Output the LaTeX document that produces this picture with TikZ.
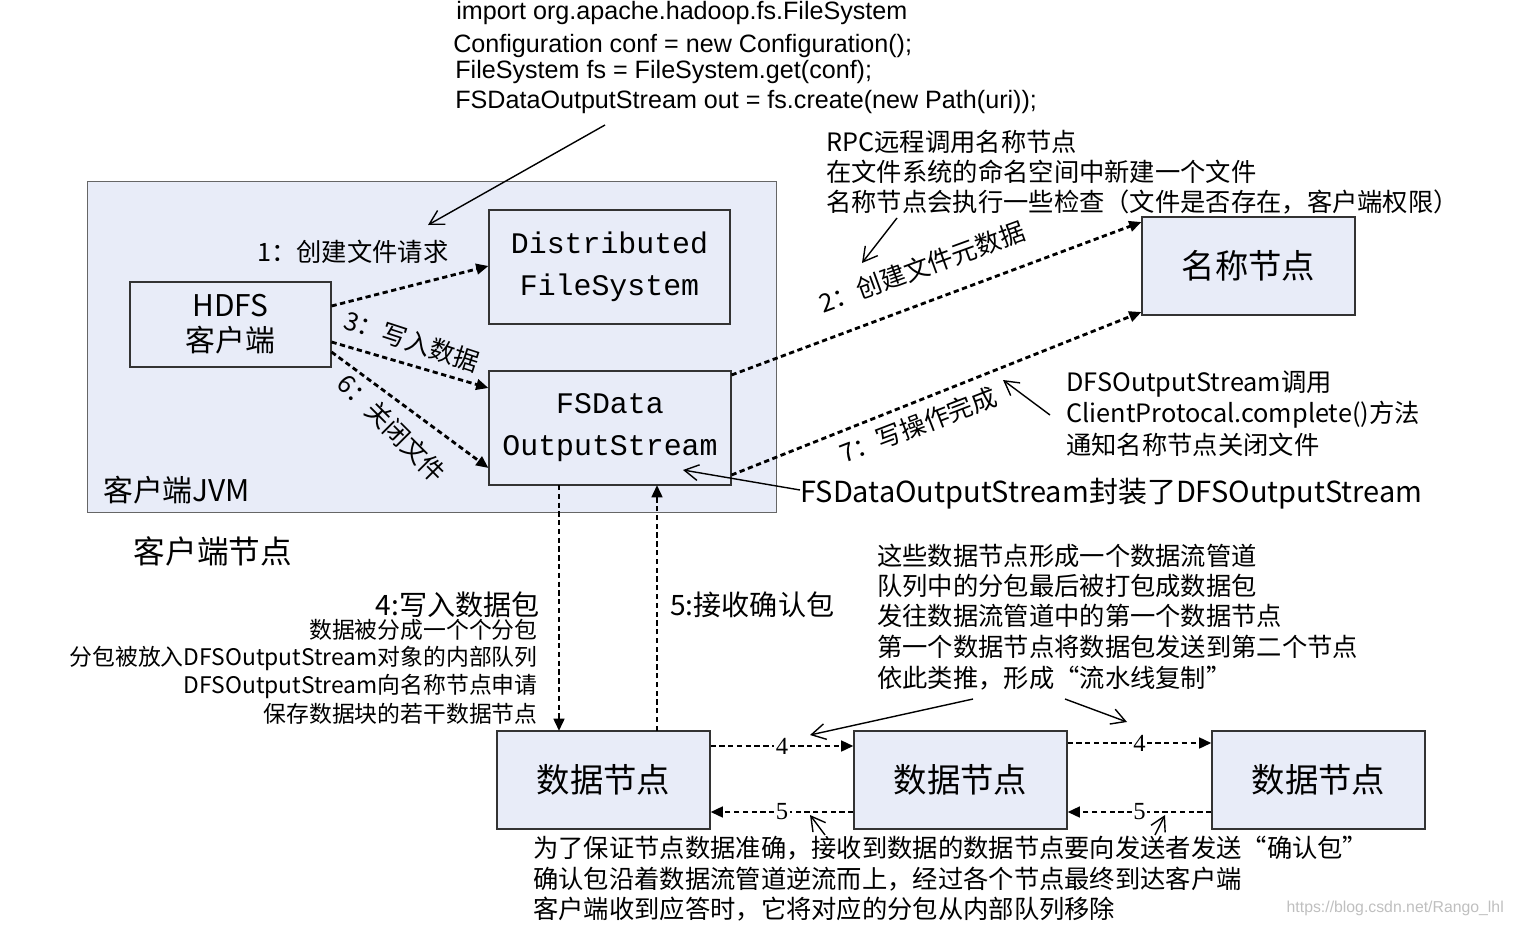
\documentclass[tikz,border=0pt]{standalone}
\usepackage{fontspec}
\setmainfont{Liberation Serif}
\newfontfamily\cjk{Noto Sans CJK SC}
\newfontfamily\sans{Liberation Sans}
\newfontfamily\mono{Liberation Mono}
\usetikzlibrary{arrows.meta}
\definecolor{bx}{RGB}{232,236,248}
\begin{document}
\begin{tikzpicture}[x=0.02cm,y=-0.02cm,
 box/.style={draw=black!80,fill=bx,line width=0.6pt},
 dsh/.style={dash pattern=on 3pt off 2pt,line width=1.6pt,-{Triangle[length=7pt,width=6pt]}},
 thn/.style={line width=0.8pt,-{Straight Barb[length=8pt,width=9pt]}},
 t/.style={font=\cjk\fontsize{14.4}{16}\selectfont,inner sep=0pt},
 ts/.style={font=\cjk\fontsize{13}{15}\selectfont,inner sep=0pt},
 s/.style={font=\sans\fontsize{14.3}{16}\selectfont,inner sep=0pt},
 big/.style={font=\cjk\fontsize{19}{22}\selectfont}]
\useasboundingbox (0,0) rectangle (1518,926);
\fill[bx] (87,181) rectangle (776,512);
\draw[black!60] (87,181) rectangle (776,512);
\node[box,minimum width=201*0.02cm,minimum height=85*0.02cm,align=center,font=\cjk\fontsize{17}{20}\selectfont] (hc) at (230.5,324.5) {HDFS\\客户端};
\node[box,minimum width=241*0.02cm,minimum height=114*0.02cm,align=center,font=\mono\fontsize{17}{24}\selectfont] (dfs) at (609.5,267) {Distributed\\FileSystem};
\node[box,minimum width=242*0.02cm,minimum height=114*0.02cm,align=center,font=\mono\fontsize{17}{24}\selectfont] (fo) at (610,428) {FSData\\OutputStream};
\node[box,minimum width=213*0.02cm,minimum height=98*0.02cm,big] (nn) at (1248.5,266) {名称节点};
\node[box,minimum width=213*0.02cm,minimum height=98*0.02cm,big] (d1) at (603.5,780) {数据节点};
\node[box,minimum width=213*0.02cm,minimum height=98*0.02cm,big] (d2) at (960.5,780) {数据节点};
\node[box,minimum width=213*0.02cm,minimum height=98*0.02cm,big] (d3) at (1318.5,780) {数据节点};
\node[font=\cjk\fontsize{17}{18}\selectfont,anchor=west] at (97,490) {客户端JVM};
\node[font=\cjk\fontsize{18}{19}\selectfont] at (213,551) {客户端节点};
% code
\node[s,anchor=west] at (456,13) {import org.apache.hadoop.fs.FileSystem};
\node[s,anchor=west] at (453,46) {Configuration conf = new Configuration();};
\node[s,anchor=west] at (455,72) {FileSystem fs = FileSystem.get(conf);};
\node[s,anchor=west] at (455,102) {FSDataOutputStream out = fs.create(new Path(uri));};
\coordinate (c1) at (605,125); \coordinate (c2) at (428,225);
\draw[thn] (c1) -- (c2);
% client arrows
\draw[dsh] (hc.east|-0,306) -- (dfs.west|-0,266);
\node[t,anchor=west] at (257,252) {1：创建文件请求};
\draw[dsh] (hc.east|-0,342) -- (fo.west|-0,388);
\node[t,rotate=-18] at (412,341) {3：写入数据};
\draw[dsh] (hc.east|-0,352) -- (fo.west|-0,468);
\node[t,rotate=-45] at (392,428) {6：关闭文件};
\draw[dsh] (fo.east|-0,375) -- (nn.west|-0,222);
\node[t,rotate=20] at (922,267) {2：创建文件元数据};
\draw[dsh] (fo.east|-0,475) -- (nn.west|-0,312);
\node[t,rotate=21] at (918,425) {7：写操作完成};
\node[t,anchor=west,align=left] at (826,142) {RPC远程调用名称节点};
\node[t,anchor=west] at (826,172) {在文件系统的命名空间中新建一个文件};
\node[t,anchor=west] at (826,202) {名称节点会执行一些检查（文件是否存在，客户端权限）};
\coordinate (r1) at (897,218); \coordinate (r2) at (862,263);
\draw[thn] (r1) -- (r2);
\node[t,anchor=west] at (1066,384) {DFSOutputStream调用};
\node[t,anchor=west] at (1066,415) {ClientProtocal.complete()方法};
\node[t,anchor=west] at (1066,445) {通知名称节点关闭文件};
\coordinate (q1) at (1050,415); \coordinate (q2) at (1003,380);
\draw[thn] (q1) -- (q2);
\node[font=\cjk\fontsize{16.5}{18}\selectfont,anchor=west,inner sep=0pt] at (800,494) {FSDataOutputStream封装了DFSOutputStream};
\coordinate (w1) at (800,490);
\draw[thn] (w1) -- (683,470);
% vertical
\draw[dsh] (559,485) -- (559,731);
\draw[dsh] (657,731) -- (657,485);
\node[t,anchor=east,font=\cjk\fontsize{16}{18}\selectfont] at (540,605) {4:写入数据包};
\node[ts,anchor=east] at (538,630) {数据被分成一个个分包};
\node[ts,anchor=east] at (538,658) {分包被放入DFSOutputStream对象的内部队列};
\node[ts,anchor=east] at (538,686) {DFSOutputStream向名称节点申请};
\node[ts,anchor=east] at (538,714) {保存数据块的若干数据节点};
\node[t,anchor=west,font=\cjk\fontsize{16}{18}\selectfont] at (670,605) {5:接收确认包};
\node[t,anchor=west] at (877,556) {这些数据节点形成一个数据流管道};
\node[t,anchor=west] at (877,586) {队列中的分包最后被打包成数据包};
\node[t,anchor=west] at (877,616) {发往数据流管道中的第一个数据节点};
\node[t,anchor=west] at (877,647) {第一个数据节点将数据包发送到第二个节点};
\node[t,anchor=west] at (877,678) {依此类推，形成“流水线复制”};
\coordinate (p1) at (973,699); \coordinate (p2) at (1065,699);
\draw[thn] (p1) -- (810,735);
\draw[thn] (p2) -- (1127,722);
% dn arrows
\draw[dsh] (d1.east|-0,746) -- node[fill=white,inner sep=1pt,font=\fontsize{14}{15}\selectfont]{4} (d2.west|-0,746);
\draw[dsh] (d2.west|-0,812) -- node[fill=white,inner sep=1pt,font=\fontsize{14}{15}\selectfont]{5} (d1.east|-0,812);
\draw[dsh] (d2.east|-0,743) -- node[fill=white,inner sep=1pt,font=\fontsize{14}{15}\selectfont]{4} (d3.west|-0,743);
\draw[dsh] (d3.west|-0,812) -- node[fill=white,inner sep=1pt,font=\fontsize{14}{15}\selectfont]{5} (d2.east|-0,812);
\coordinate (b1) at (825,835); \coordinate (b2) at (1155,835);
\draw[thn] (b1) -- (810,815);
\draw[thn] (b2) -- (1165,815);
\node[t,anchor=west] at (533,848) {为了保证节点数据准确，接收到数据的数据节点要向发送者发送“确认包”};
\node[t,anchor=west] at (533,879) {确认包沿着数据流管道逆流而上，经过各个节点最终到达客户端};
\node[t,anchor=west] at (533,909) {客户端收到应答时，它将对应的分包从内部队列移除};
\node[font=\sans\fontsize{9}{10}\selectfont,text=black!25,anchor=east] at (1510,908) {https://blog.csdn.net/Rango\_lhl};
\end{tikzpicture}
\end{document}
